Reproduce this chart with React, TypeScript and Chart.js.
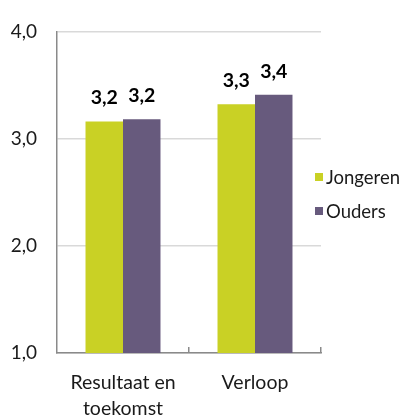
import React, { useEffect, useRef } from 'react';
import { Chart, registerables } from 'chart.js';

Chart.register(...registerables);

// ---- data ----
const categories: (string | string[])[] = [['Resultaat en', 'toekomst'], 'Verloop'];
const seriesNames = ['Jongeren', 'Ouders'];
const jongeren = [3.16, 3.32];
const ouders = [3.18, 3.41];
const yTicks = [1, 2, 3, 4];
const seriesColors = ['#C9D125', '#675A7D'];

const FONT = 'Lato';
const TEXT = '#1a1a1a';
const AXIS = '#8a8a8a';

const fmt = (v: number) => (Math.round(v * 10) / 10).toFixed(1).replace('.', ',');

const valueLabels = {
  id: 'valueLabels',
  afterDatasetsDraw(chart: any) {
    const ctx = chart.ctx;
    ctx.save();
    ctx.font = `bold 19.5px ${FONT}`;
    ctx.fillStyle = '#000';
    ctx.textAlign = 'center';
    ctx.textBaseline = 'alphabetic';
    chart.data.datasets.forEach((ds: any, i: number) => {
      const meta = chart.getDatasetMeta(i);
      meta.data.forEach((el: any, j: number) => {
        ctx.fillText(fmt(ds.data[j]), el.x, el.y - 17);
      });
    });
    ctx.restore();
  },
};

const innerTicks = {
  id: 'innerTicks',
  afterDraw(chart: any) {
    const x = chart.scales.x;
    const ctx = chart.ctx;
    const n = chart.data.labels.length;
    const w = (x.right - x.left) / n;
    ctx.save();
    ctx.strokeStyle = AXIS;
    ctx.lineWidth = 1.5;
    for (let k = 1; k <= n; k++) {
      const px = Math.round(x.left + k * w) - 0.25;
      ctx.beginPath();
      ctx.moveTo(px, x.top);
      ctx.lineTo(px, x.top - 6);
      ctx.stroke();
    }
    ctx.restore();
  },
};

const sideLegend = {
  id: 'sideLegend',
  afterDraw(chart: any) {
    const ctx = chart.ctx;
    const left = chart.chartArea.right - 6;
    ctx.save();
    ctx.font = `18.5px ${FONT}`;
    ctx.textAlign = 'left';
    ctx.textBaseline = 'middle';
    chart.data.datasets.forEach((ds: any, i: number) => {
      const cy = 177 + i * 34;
      ctx.fillStyle = ds.backgroundColor;
      ctx.fillRect(left, cy - 4, 8, 8);
      ctx.fillStyle = TEXT;
      ctx.fillText(ds.label, left + 11, cy + 1);
    });
    ctx.restore();
  },
};

export default function App() {
  const ref = useRef<HTMLCanvasElement | null>(null);

  useEffect(() => {
    document.body.style.margin = '0';
    if (!ref.current) return;
    const chart = new Chart(ref.current, {
      type: 'bar',
      data: {
        labels: categories,
        datasets: [
          { label: seriesNames[0], data: jongeren, backgroundColor: seriesColors[0] },
          { label: seriesNames[1], data: ouders, backgroundColor: seriesColors[1] },
        ],
      },
      options: {
        animation: false,
        responsive: false,
        maintainAspectRatio: false,
        layout: { padding: { top: 22, right: 85, bottom: 0, left: 0 } },
        datasets: {
          bar: { categoryPercentage: 0.568, barPercentage: 1 },
        },
        plugins: {
          legend: { display: false },
          tooltip: { enabled: false },
        },
        scales: {
          x: {
            offset: true,
            grid: { display: false, drawTicks: false },
            border: { display: true, color: AXIS, width: 1.5 },
            ticks: {
              padding: 16,
              color: TEXT,
              font: { family: FONT, size: 19.5, lineHeight: 1.36 },
              maxRotation: 0,
              autoSkip: false,
            },
            afterFit: (s: any) => { s.height = 62; },
          },
          y: {
            min: 1,
            max: 4,
            grid: { color: '#d9d9d9', lineWidth: 1.5, drawTicks: false },
            border: { display: true, color: AXIS, width: 1.5 },
            ticks: {
              padding: 20,
              color: TEXT,
              font: { family: FONT, size: 19 },
              callback: (v: any) => fmt(Number(v)),
            },
            afterBuildTicks: (s: any) => { s.ticks = yTicks.map((v) => ({ value: v })); },
            afterFit: (s: any) => { s.width = 57; },
          },
        },
      },
      plugins: [valueLabels, innerTicks, sideLegend],
    });
    return () => chart.destroy();
  }, []);

  return (
    <div style={{ width: 406, height: 415 }}>
      <canvas ref={ref} width={406} height={415} style={{ display: 'block' }} />
    </div>
  );
}
